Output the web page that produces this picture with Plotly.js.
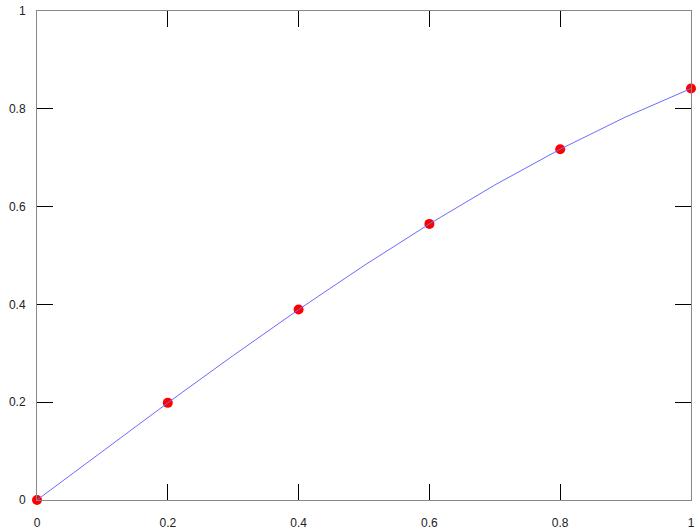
<!DOCTYPE html>
<html>
<head>
<meta charset="utf-8">
<script src="https://cdn.plot.ly/plotly-3.0.1.min.js"></script>
<style>body{margin:0;padding:0;background:#fff}#plot{width:697px;height:531px}</style>
</head>
<body>
<div id="plot"></div>
<script>
// curve samples
var lineX = [0, 0.1, 0.2, 0.3, 0.4, 0.5, 0.6, 0.7, 0.8, 0.9, 1];
var lineY = [0, 0.0998, 0.1987, 0.2955, 0.3894, 0.4794, 0.5646, 0.6442, 0.7174, 0.7833, 0.8415];
// red dots
var dotX = [0, 0.2, 0.4, 0.6, 0.8, 1];
var dotY = [0, 0.1987, 0.3894, 0.5646, 0.7174, 0.8415];
var tickVals = [0, 0.2, 0.4, 0.6, 0.8, 1];
var tickText = ["0", "0.2", "0.4", "0.6", "0.8", "1"];

// dots first so the blue line sits on top of them
var data = [{
  x: dotX, y: dotY, mode: "markers", type: "scatter",
  marker: {color: "#ff0000", size: 10}, cliponaxis: false
}, {
  x: lineX, y: lineY, mode: "lines", type: "scatter",
  line: {color: "#6b6bff", width: 1}, hoverinfo: "none"
}];

var axisStyle = {
  range: [0, 1],
  tickvals: tickVals,
  ticktext: tickText,
  ticks: "inside",
  ticklen: 16,
  tickwidth: 1,
  tickcolor: "#000",
  showline: true,
  linecolor: "#888",
  linewidth: 1,
  mirror: "ticks",
  showgrid: false,
  zeroline: false,
  tickfont: {family: "Arial, Liberation Sans, sans-serif", size: 12, color: "#222"}
};

var layout = {
  width: 697,
  height: 531,
  margin: {l: 37, r: 6, t: 11, b: 31},
  showlegend: false,
  paper_bgcolor: "#fff",
  plot_bgcolor: "#fff",
  xaxis: Object.assign({}, axisStyle, {ticklabelstandoff: 12}),
  yaxis: Object.assign({}, axisStyle, {ticklabelstandoff: 8})
};

Plotly.newPlot("plot", data, layout, {displayModeBar: false, staticPlot: true});
</script>
</body>
</html>
